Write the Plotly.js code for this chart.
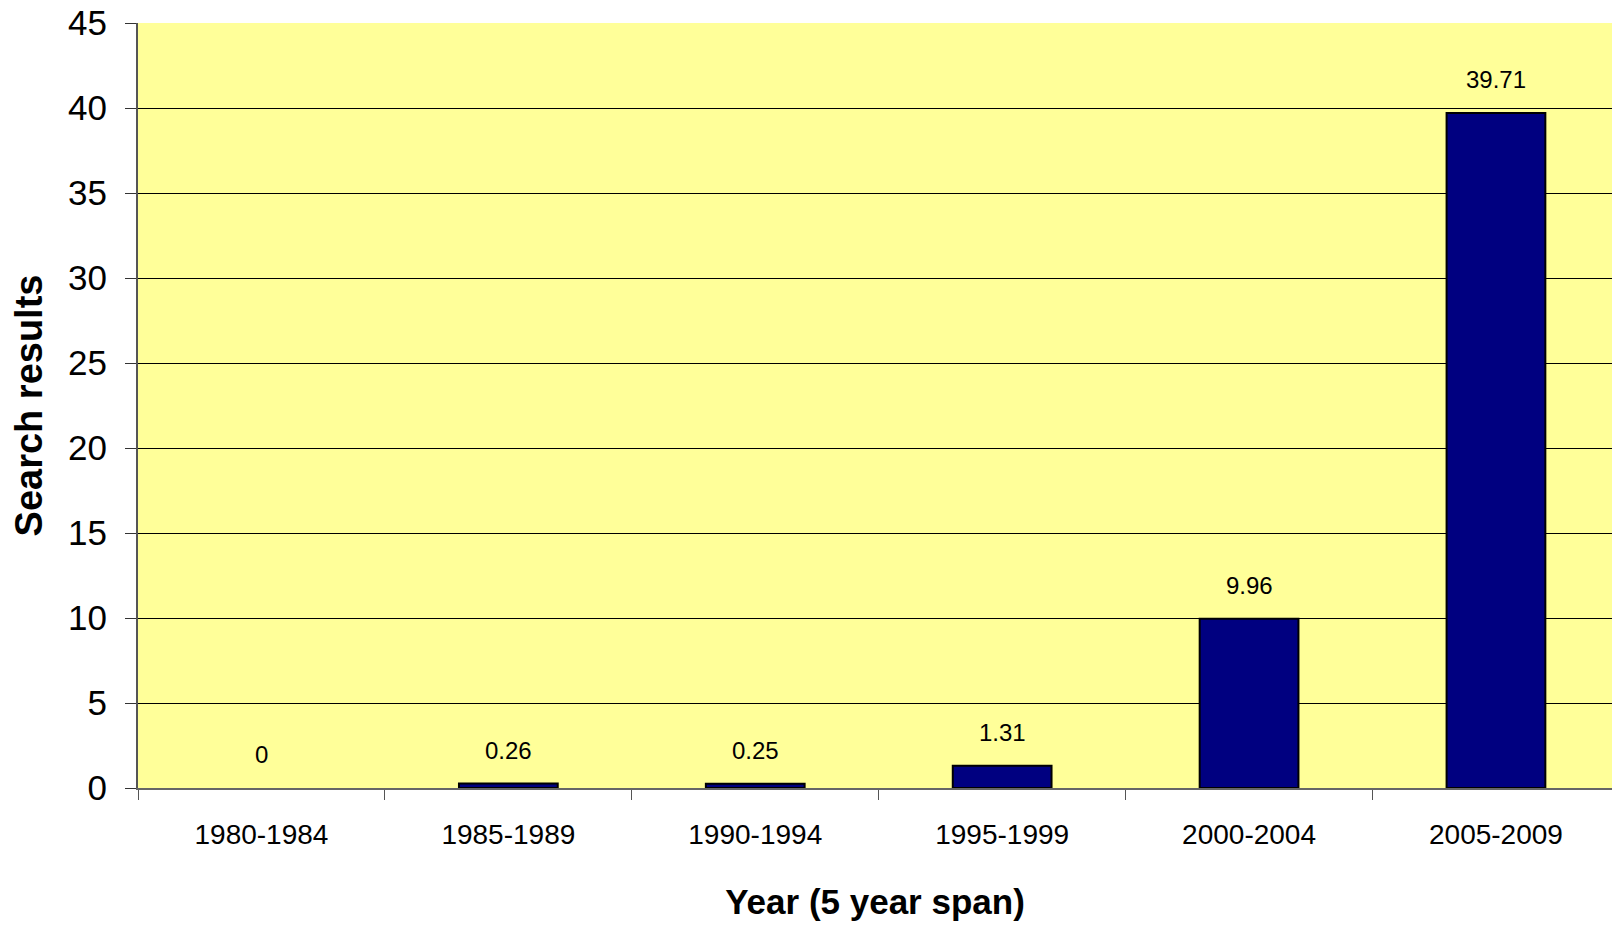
<!DOCTYPE html>
<html>
<head>
<meta charset="utf-8">
<script src="https://cdn.plot.ly/plotly-3.0.1.min.js"></script>
<style>
  html, body { margin: 0; padding: 0; background: #fff; overflow: hidden; }
  #chart { width: 1612px; height: 925px; }
</style>
</head>
<body>
<div id="chart"></div>
<script>
// Search results per five-year span
const spans = ['1980-1984', '1985-1989', '1990-1994', '1995-1999', '2000-2004', '2005-2009'];
const results = [0, 0.26, 0.25, 1.31, 9.96, 39.71];
const yTicks = [0, 5, 10, 15, 20, 25, 30, 35, 40, 45];

const FONT = 'Liberation Sans, Arial, Helvetica, sans-serif';

const bars = {
  type: 'bar',
  x: spans,
  y: results,
  width: 0.4,
  marker: {
    color: '#000080',
    // an empty bar gets no outline
    line: { color: '#000000', width: results.map(v => (v > 0 ? 2 : 0)) }
  },
  hoverinfo: 'x+y'
};

// value labels above each bar
const labels = spans.map((s, i) => ({
  x: s,
  y: results[i],
  xref: 'x',
  yref: 'y',
  text: String(results[i]),
  showarrow: false,
  yanchor: 'bottom',
  yshift: 18,
  font: { family: FONT, size: 24, color: '#000' }
}));

const layout = {
  width: 1612,
  height: 925,
  margin: { l: 138, r: 0, t: 23, b: 137 },
  paper_bgcolor: '#ffffff',
  plot_bgcolor: '#FFFF99',
  showlegend: false,
  font: { family: FONT, color: '#000' },
  xaxis: {
    type: 'category',
    range: [-0.5, 5.47],
    tickson: 'boundaries',
    ticks: 'outside',
    ticklen: 10,
    tickwidth: 1,
    tickcolor: '#555',
    showgrid: false,
    showline: true,
    linecolor: '#666',
    linewidth: 2,
    tickfont: { family: FONT, size: 28, color: '#000' },
    ticklabelstandoff: 20,
    title: {
      text: '<b>Year (5 year span)</b>',
      font: { family: FONT, size: 35, color: '#000' },
      standoff: 41
    },
    fixedrange: true
  },
  yaxis: {
    range: [0, 45],
    tickvals: yTicks,
    ticktext: yTicks.map(String),
    ticks: 'outside',
    ticklen: 11,
    tickwidth: 1,
    tickcolor: '#333',
    showgrid: true,
    gridcolor: '#000000',
    gridwidth: 1,
    zeroline: false,
    showline: true,
    linecolor: '#555',
    linewidth: 2,
    tickfont: { family: FONT, size: 35, color: '#000' },
    ticklabelstandoff: 11,
    title: {
      text: '<b>Search results</b>',
      font: { family: FONT, size: 38, color: '#000' },
      standoff: 14
    },
    fixedrange: true
  },
  annotations: labels
};

Plotly.newPlot('chart', [bars], layout, { displayModeBar: false, staticPlot: true });
</script>
</body>
</html>
